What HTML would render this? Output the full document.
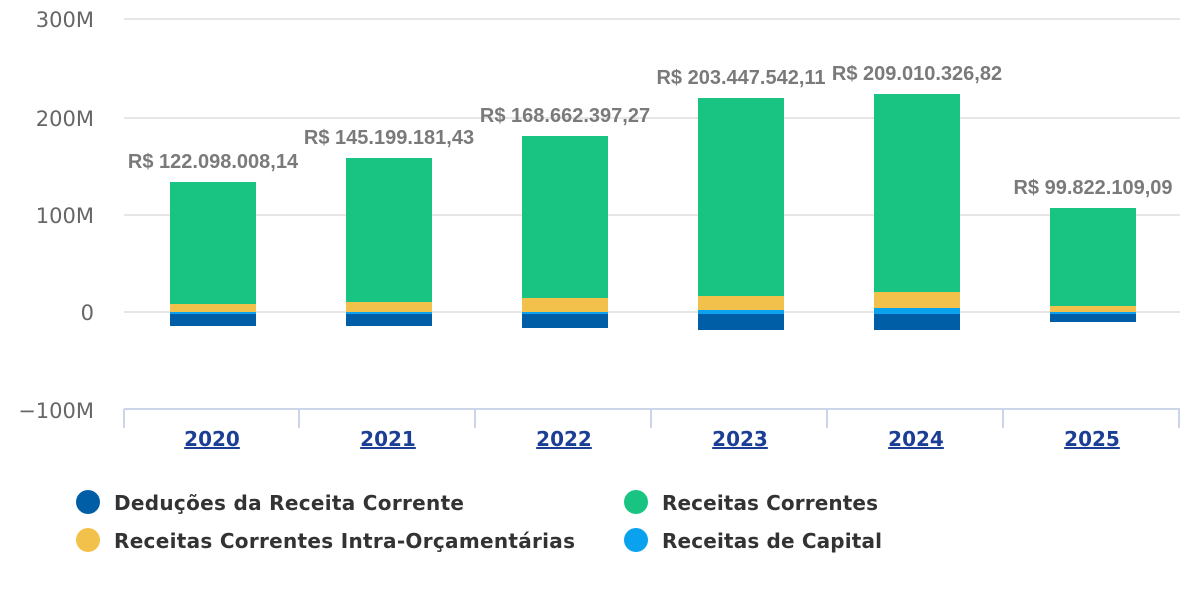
<!DOCTYPE html>
<html><head><meta charset="utf-8"><style>
body{margin:0;background:#fff;width:1200px;height:600px;overflow:hidden}
svg text{font-family:"DejaVu Sans","Liberation Sans",sans-serif}
svg text.dl{font-family:"Liberation Sans",sans-serif}
</style></head><body>
<svg width="1200" height="600" xmlns="http://www.w3.org/2000/svg">
<g stroke="#e6e6e6" stroke-width="2">
<line x1="124" y1="19" x2="1180" y2="19"/>
<line x1="124" y1="118" x2="1180" y2="118"/>
<line x1="124" y1="215" x2="1180" y2="215"/>
<line x1="124" y1="312" x2="1180" y2="312"/>
</g>
<g stroke="#ccd6eb" stroke-width="2">
<line x1="124" y1="409" x2="1180" y2="409"/>
<line x1="124" y1="409" x2="124" y2="428"/>
<line x1="299" y1="409" x2="299" y2="428"/>
<line x1="475" y1="409" x2="475" y2="428"/>
<line x1="651" y1="409" x2="651" y2="428"/>
<line x1="827" y1="409" x2="827" y2="428"/>
<line x1="1003" y1="409" x2="1003" y2="428"/>
<line x1="1179" y1="409" x2="1179" y2="428"/>
</g>
<g font-size="21" fill="#666" text-anchor="end">
<text x="94" y="27">300M</text>
<text x="94" y="126">200M</text>
<text x="94" y="223">100M</text>
<text x="94" y="320">0</text>
<text x="94" y="418">−100M</text>
</g>
<g>
<rect x="170" y="182" width="86" height="122" fill="#19c482"/><rect x="170" y="304" width="86" height="8" fill="#f2c14b"/><rect x="170" y="312" width="86" height="2" fill="#0aa2ee"/><rect x="170" y="314" width="86" height="12" fill="#005ea6"/>
<rect x="346" y="158" width="86" height="144" fill="#19c482"/><rect x="346" y="302" width="86" height="10" fill="#f2c14b"/><rect x="346" y="312" width="86" height="2" fill="#0aa2ee"/><rect x="346" y="314" width="86" height="12" fill="#005ea6"/>
<rect x="522" y="136" width="86" height="162" fill="#19c482"/><rect x="522" y="298" width="86" height="14" fill="#f2c14b"/><rect x="522" y="312" width="86" height="2" fill="#0aa2ee"/><rect x="522" y="314" width="86" height="14" fill="#005ea6"/>
<rect x="698" y="98" width="86" height="198" fill="#19c482"/><rect x="698" y="296" width="86" height="14" fill="#f2c14b"/><rect x="698" y="310" width="86" height="4" fill="#0aa2ee"/><rect x="698" y="314" width="86" height="16" fill="#005ea6"/>
<rect x="874" y="94" width="86" height="198" fill="#19c482"/><rect x="874" y="292" width="86" height="16" fill="#f2c14b"/><rect x="874" y="308" width="86" height="6" fill="#0aa2ee"/><rect x="874" y="314" width="86" height="16" fill="#005ea6"/>
<rect x="1050" y="208" width="86" height="98" fill="#19c482"/><rect x="1050" y="306" width="86" height="6" fill="#f2c14b"/><rect x="1050" y="312" width="86" height="2" fill="#0aa2ee"/><rect x="1050" y="314" width="86" height="8" fill="#005ea6"/>
</g>
<g font-weight="bold" font-size="20" fill="#7a7a7a" text-anchor="middle">
<text class="dl" x="213" y="168">R$ 122.098.008,14</text>
<text class="dl" x="389" y="144">R$ 145.199.181,43</text>
<text class="dl" x="565" y="122">R$ 168.662.397,27</text>
<text class="dl" x="741" y="84">R$ 203.447.542,11</text>
<text class="dl" x="917" y="80">R$ 209.010.326,82</text>
<text class="dl" x="1093" y="194">R$ 99.822.109,09</text>
</g>
<g font-size="20" font-weight="bold" fill="#1b3f94" text-anchor="middle" text-decoration="underline">
<text x="212" y="446">2020</text>
<text x="388" y="446">2021</text>
<text x="564" y="446">2022</text>
<text x="740" y="446">2023</text>
<text x="916" y="446">2024</text>
<text x="1092" y="446">2025</text>
</g>
<g font-size="20" font-weight="bold" fill="#333">
<circle cx="88" cy="502" r="12" fill="#005ea6"/><text x="114" y="510" textLength="350">Deduções da Receita Corrente</text>
<circle cx="88" cy="540" r="12" fill="#f2c14b"/><text x="114" y="548" textLength="461">Receitas Correntes Intra-Orçamentárias</text>
<circle cx="636" cy="502" r="12" fill="#19c482"/><text x="662" y="510" textLength="216">Receitas Correntes</text>
<circle cx="636" cy="540" r="12" fill="#0aa2ee"/><text x="662" y="548" textLength="220">Receitas de Capital</text>
</g>
</svg>
</body></html>
